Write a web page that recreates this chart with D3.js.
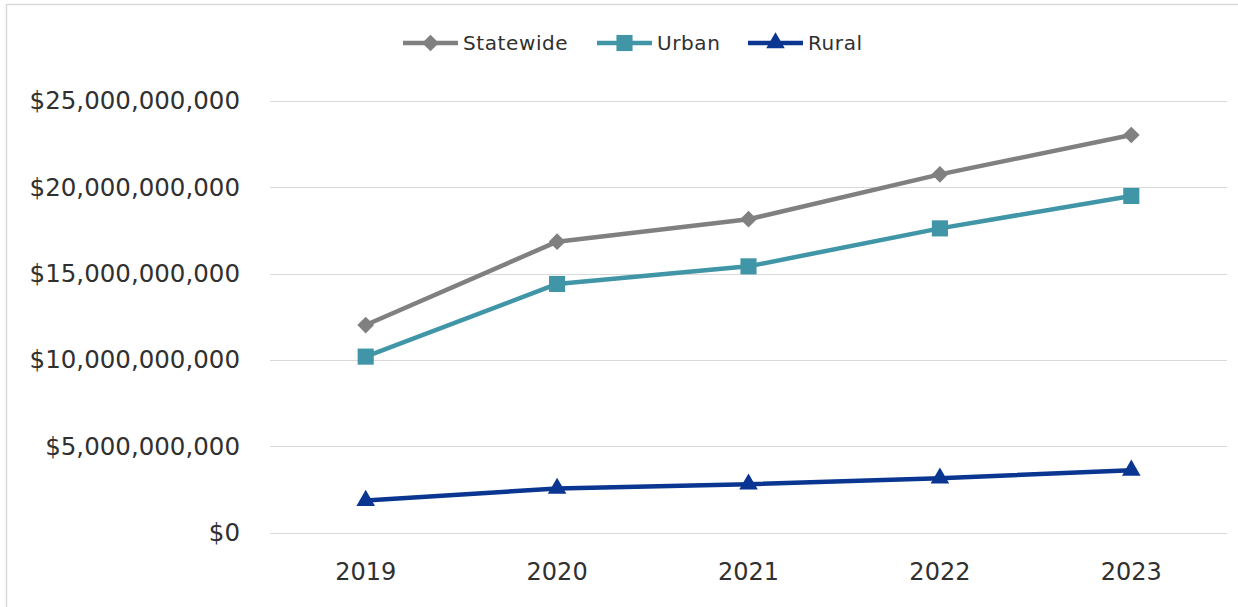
<!DOCTYPE html>
<html>
<head>
<meta charset="utf-8">
<script src="https://cdn.jsdelivr.net/npm/d3@7"></script>
<style>
  html, body { margin: 0; padding: 0; background: #fff; }
  svg { display: block; }
  text { font-family: "DejaVu Sans", sans-serif; fill: #303030; }
</style>
</head>
<body>
<svg id="chart" width="1238" height="607"></svg>
<script>
const years = ["2019", "2020", "2021", "2022", "2023"];
const statewide = [12.02e9, 16.85e9, 18.15e9, 20.75e9, 23.03e9];
const urban = [10.19e9, 14.4e9, 15.42e9, 17.62e9, 19.5e9];
const rural = [1.85e9, 2.55e9, 2.8e9, 3.15e9, 3.6e9];
const yTicks = [0, 5e9, 10e9, 15e9, 20e9, 25e9];
const seriesNames = ["Statewide", "Urban", "Rural"];

(function () {
const series = [
  { name: seriesNames[0], values: statewide, color: "#808080", symbol: d3.symbolSquare, size: 140, rot: 45 },
  { name: seriesNames[1], values: urban, color: "#4096A7", symbol: d3.symbolSquare, size: 260, rot: 0 },
  { name: seriesNames[2], values: rural, color: "#0A3590", symbol: d3.symbolTriangle, size: 150, rot: 0 }
];

const svg = d3.select("#chart");
const W = 1238, H = 607;

// outer frame
svg.append("line").attr("x1", 6.5).attr("x2", 6.5).attr("y1", 4).attr("y2", H).attr("stroke", "#d9d9d9").attr("stroke-width", 1.5);
svg.append("line").attr("x1", 6).attr("x2", W).attr("y1", 4.5).attr("y2", 4.5).attr("stroke", "#d9d9d9").attr("stroke-width", 1.5);

const mLeft = 270, mRight = 1227, mTop = 101, mBottom = 532.5;
const x = d3.scaleBand().domain(years).range([mLeft, mRight]);
const y = d3.scaleLinear().domain([0, 25e9]).range([mBottom, mTop]);
const cx = d => x(d) + x.bandwidth() / 2;

// gridlines
svg.append("g").selectAll("line").data(yTicks).join("line")
  .attr("x1", mLeft).attr("x2", mRight)
  .attr("y1", d => Math.round(y(d)) + 0.5).attr("y2", d => Math.round(y(d)) + 0.5)
  .attr("stroke", "#d9d9d9").attr("stroke-width", 1.2);

// y axis
const fmt = d => "$" + d3.format(",")(d);
const yAxis = d3.axisLeft(y).tickValues(yTicks).tickFormat(fmt).tickSize(0).tickPadding(30);
const gy = svg.append("g").attr("transform", `translate(${mLeft},0)`).call(yAxis);
gy.select(".domain").remove();
gy.selectAll("text").attr("font-size", 24.5).attr("font-family", "DejaVu Sans, sans-serif").attr("fill", "#303030");

// x axis
const xAxis = d3.axisBottom(x).tickSize(0).tickPadding(30);
const gx = svg.append("g").attr("transform", `translate(0,${mBottom})`).call(xAxis);
gx.select(".domain").remove();
gx.selectAll("text").attr("font-size", 24).attr("font-family", "DejaVu Sans, sans-serif").attr("fill", "#303030");

// lines & markers
const line = d3.line().x((d, i) => cx(years[i])).y(d => y(d));
series.forEach(s => {
  svg.append("path").datum(s.values).attr("d", line)
    .attr("fill", "none").attr("stroke", s.color).attr("stroke-width", 4.5)
    .attr("stroke-linejoin", "round");
  svg.append("g").selectAll("path").data(s.values).join("path")
    .attr("d", d3.symbol().type(s.symbol).size(s.size))
    .attr("transform", (d, i) => `translate(${cx(years[i])},${y(d)}) rotate(${s.rot})`)
    .attr("fill", s.color);
});

// legend
const legendX = [403, 597, 748];
const lg = svg.append("g");
series.forEach((s, i) => {
  const g = lg.append("g").attr("transform", `translate(${legendX[i]},43)`);
  g.append("line").attr("x1", 0).attr("x2", 55).attr("y1", 0).attr("y2", 0)
    .attr("stroke", s.color).attr("stroke-width", 4.5);
  g.append("path").attr("d", d3.symbol().type(s.symbol).size(s.size))
    .attr("transform", `translate(27.5,0) rotate(${s.rot})`).attr("fill", s.color);
  g.append("text").attr("x", 60).attr("y", 0).attr("dy", "0.36em")
    .attr("font-size", 20).attr("letter-spacing", 0.6).text(s.name);
});
})();
</script>
</body>
</html>
